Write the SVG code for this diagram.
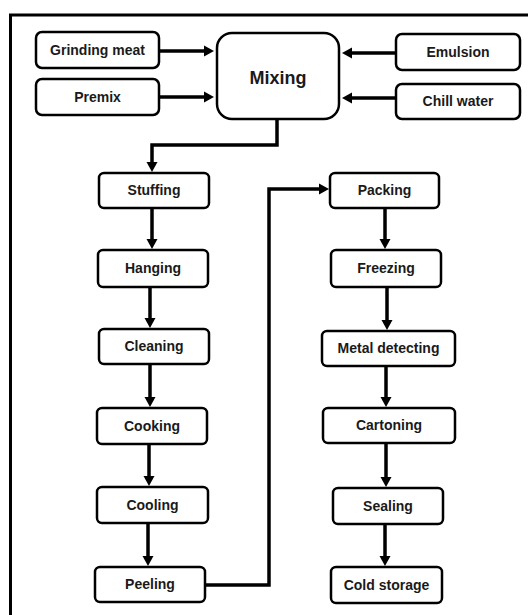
<svg xmlns="http://www.w3.org/2000/svg" width="528" height="615" viewBox="0 0 528 615">
  <style>
    .box { fill: #ffffff; stroke: #000000; stroke-width: 2.5; }
    .lbl { font-family: "Liberation Sans", Arial, sans-serif; font-weight: bold; font-size: 14px; fill: #1a1a1a; text-anchor: middle; }
    .big { font-size: 18px; }
    .conn { fill: none; stroke: #000000; stroke-width: 3.5; stroke-linejoin: miter; }
  </style>
  <defs>
    <marker id="arr" markerUnits="userSpaceOnUse" markerWidth="11" markerHeight="12" refX="2" refY="6" orient="auto">
      <path d="M0,0.5 L10,6 L0,11.5 z" fill="#000000"/>
    </marker>
  </defs>
  <rect x="0" y="0" width="528" height="615" fill="#ffffff"/>
  <rect x="10.5" y="15" width="540" height="620" fill="none" stroke="#000000" stroke-width="3"/>

  <g id="connectors">
    <path class="conn" d="M159,51 H206" marker-end="url(#arr)"/>
    <path class="conn" d="M159,97 H206" marker-end="url(#arr)"/>
    <path class="conn" d="M396,53 H350" marker-end="url(#arr)"/>
    <path class="conn" d="M396,98 H350" marker-end="url(#arr)"/>
    <path class="conn" d="M277,119 V145 H152 V164" marker-end="url(#arr)"/>
    <path class="conn" d="M152,208 V241" marker-end="url(#arr)"/>
    <path class="conn" d="M150,287 V320" marker-end="url(#arr)"/>
    <path class="conn" d="M150,364 V399" marker-end="url(#arr)"/>
    <path class="conn" d="M149,444 V478" marker-end="url(#arr)"/>
    <path class="conn" d="M148,523 V558" marker-end="url(#arr)"/>
    <path class="conn" d="M205,585 H269 V189 H321" marker-end="url(#arr)"/>
    <path class="conn" d="M385,208 V241" marker-end="url(#arr)"/>
    <path class="conn" d="M387,287 V322" marker-end="url(#arr)"/>
    <path class="conn" d="M386,366 V399" marker-end="url(#arr)"/>
    <path class="conn" d="M386,443 V479" marker-end="url(#arr)"/>
    <path class="conn" d="M385,524 V558" marker-end="url(#arr)"/>
  </g>

  <g id="grinding-meat">
    <rect class="box" x="36" y="32" width="123" height="36" rx="6"/>
    <text class="lbl" x="97.5" y="55">Grinding meat</text>
  </g>
  <g id="premix">
    <rect class="box" x="36" y="79" width="123" height="36" rx="6"/>
    <text class="lbl" x="97.5" y="102">Premix</text>
  </g>
  <g id="mixing">
    <rect class="box" x="217" y="33" width="122" height="86" rx="15"/>
    <text class="lbl big" x="278" y="84">Mixing</text>
  </g>
  <g id="emulsion">
    <rect class="box" x="396" y="34" width="124" height="36" rx="6"/>
    <text class="lbl" x="458" y="57">Emulsion</text>
  </g>
  <g id="chill-water">
    <rect class="box" x="396" y="84" width="124" height="35" rx="6"/>
    <text class="lbl" x="458" y="106">Chill water</text>
  </g>

  <g id="stuffing">
    <rect class="box" x="99" y="173" width="110" height="35" rx="5"/>
    <text class="lbl" x="154" y="195">Stuffing</text>
  </g>
  <g id="hanging">
    <rect class="box" x="98" y="250" width="110" height="37" rx="5"/>
    <text class="lbl" x="153" y="273">Hanging</text>
  </g>
  <g id="cleaning">
    <rect class="box" x="99" y="329" width="110" height="35" rx="5"/>
    <text class="lbl" x="154" y="351">Cleaning</text>
  </g>
  <g id="cooking">
    <rect class="box" x="97" y="408" width="110" height="36" rx="5"/>
    <text class="lbl" x="152" y="431">Cooking</text>
  </g>
  <g id="cooling">
    <rect class="box" x="97" y="487" width="111" height="36" rx="5"/>
    <text class="lbl" x="152.5" y="510">Cooling</text>
  </g>
  <g id="peeling">
    <rect class="box" x="95" y="567" width="110" height="35" rx="5"/>
    <text class="lbl" x="150" y="589">Peeling</text>
  </g>

  <g id="packing">
    <rect class="box" x="330" y="173" width="109" height="35" rx="5"/>
    <text class="lbl" x="384.5" y="195">Packing</text>
  </g>
  <g id="freezing">
    <rect class="box" x="331" y="250" width="110" height="37" rx="5"/>
    <text class="lbl" x="386" y="273">Freezing</text>
  </g>
  <g id="metal-detecting">
    <rect class="box" x="322" y="331" width="133" height="35" rx="5"/>
    <text class="lbl" x="388.5" y="353">Metal detecting</text>
  </g>
  <g id="cartoning">
    <rect class="box" x="323" y="408" width="132" height="35" rx="5"/>
    <text class="lbl" x="389" y="430">Cartoning</text>
  </g>
  <g id="sealing">
    <rect class="box" x="333" y="488" width="110" height="36" rx="5"/>
    <text class="lbl" x="388" y="511">Sealing</text>
  </g>
  <g id="cold-storage">
    <rect class="box" x="331" y="567" width="111" height="36" rx="5"/>
    <text class="lbl" x="386.5" y="590">Cold storage</text>
  </g>
</svg>
